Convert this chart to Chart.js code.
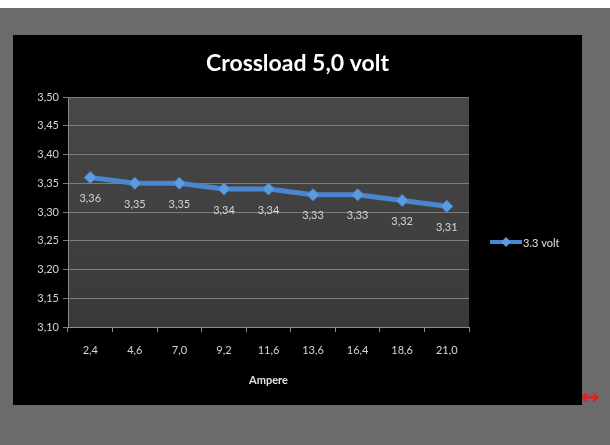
<!DOCTYPE html>
<html>
<head>
<meta charset="utf-8">
<script src="https://cdn.jsdelivr.net/npm/chart.js@4.4.1/dist/chart.umd.min.js"></script>
<style>
  html, body { margin: 0; padding: 0; }
  body { width: 610px; height: 445px; background: #6b6b6b; position: relative; overflow: hidden; }
  #topband { position: absolute; left: 0; top: 0; width: 610px; height: 8px; background: #ffffff; }
  #frame { position: absolute; left: 13px; top: 35px; width: 569px; height: 370px; background: #000; }
  #arrow { position: absolute; left: 581px; top: 384px; color: #e0201c; font: bold 22px "DejaVu Sans", sans-serif; }
</style>
</head>
<body>
<div id="topband"></div>
<div id="frame"><canvas id="c" width="569" height="370"></canvas></div>
<div id="arrow">↔</div>
<script>
const categories = ["2,4", "4,6", "7,0", "9,2", "11,6", "13,6", "16,4", "18,6", "21,0"];
const seriesName = "3.3 volt";
const values = [3.36, 3.35, 3.35, 3.34, 3.34, 3.33, 3.33, 3.32, 3.31];
const yMin = 3.10, yMax = 3.50, yStep = 0.05;
const titleText = "Crossload 5,0 volt";
const xTitle = "Ampere";

const fmt = v => v.toFixed(2).replace('.', ',');
const FONT = 'Lato, "Open Sans", sans-serif';
const lineColor = '#4a86cf';

const plotBg = {
  id: 'plotBg',
  beforeDraw(chart) {
    const { ctx, chartArea: a } = chart;
    const g = ctx.createLinearGradient(0, a.top, 0, a.bottom);
    g.addColorStop(0, '#484848');
    g.addColorStop(1, '#393939');
    ctx.save();
    ctx.fillStyle = g;
    ctx.fillRect(a.left, a.top, a.right - a.left, a.bottom - a.top);
    ctx.restore();
  }
};

const titlePlugin = {
  id: 'centerTitle',
  afterDraw(chart) {
    const { ctx } = chart;
    ctx.save();
    ctx.font = 'bold 23px ' + FONT;
    ctx.fillStyle = '#ffffff';
    ctx.textAlign = 'center';
    ctx.textBaseline = 'middle';
    ctx.fillText(titleText, chart.width / 2, 29);
    ctx.restore();
  }
};

const labelsPlugin = {
  id: 'pointLabels',
  afterDatasetsDraw(chart) {
    const { ctx } = chart;
    const meta = chart.getDatasetMeta(0);
    ctx.save();
    ctx.font = '11px ' + FONT;
    ctx.fillStyle = '#d4d4d4';
    ctx.textAlign = 'center';
    ctx.textBaseline = 'middle';
    meta.data.forEach((pt, i) => {
      ctx.fillText(fmt(values[i]), pt.x, pt.y + 21);
    });
    ctx.restore();
  }
};

const legendPlugin = {
  id: 'customLegend',
  afterDraw(chart) {
    const { ctx } = chart;
    const x0 = 477, y0 = 207;
    ctx.save();
    ctx.strokeStyle = lineColor;
    ctx.lineWidth = 4;
    ctx.beginPath();
    ctx.moveTo(x0, y0);
    ctx.lineTo(x0 + 32, y0);
    ctx.stroke();
    ctx.fillStyle = '#5b9be0';
    ctx.beginPath();
    const cx = x0 + 16, r = 5;
    ctx.moveTo(cx, y0 - r); ctx.lineTo(cx + r, y0); ctx.lineTo(cx, y0 + r); ctx.lineTo(cx - r, y0); ctx.closePath();
    ctx.fill();
    ctx.font = '11px ' + FONT;
    ctx.fillStyle = '#e0e0e0';
    ctx.textAlign = 'left';
    ctx.textBaseline = 'middle';
    ctx.fillText(seriesName, x0 + 33, y0 + 1);
    ctx.restore();
  }
};

new Chart(document.getElementById('c'), {
  type: 'line',
  data: {
    labels: categories,
    datasets: [{
      label: seriesName,
      data: values,
      borderColor: lineColor,
      borderWidth: 5,
      backgroundColor: '#5b9be0',
      pointStyle: 'rectRot',
      pointRadius: 6,
      pointBorderColor: '#4a86cf',
      pointBorderWidth: 1,
      tension: 0,
      fill: false
    }]
  },
  options: {
    responsive: false,
    animation: false,
    devicePixelRatio: 1,
    layout: { padding: { left: 0, right: 113, top: 62, bottom: 14 } },
    plugins: {
      legend: { display: false },
      tooltip: { enabled: false },
      title: { display: false }
    },
    scales: {
      x: {
        offset: true,
        grid: { display: true, drawOnChartArea: false, offset: true, tickLength: 5, color: '#8a8a8a' },
        border: { color: '#8a8a8a', width: 1 },
        ticks: { color: '#d4d4d4', font: { family: FONT, size: 11 }, padding: 12, maxRotation: 0 },
        title: { display: true, text: xTitle, color: '#e0e0e0', font: { family: FONT, size: 11, weight: 'bold' }, padding: { top: 10 } },
        afterFit(scale) { scale.height = 64; }
      },
      y: {
        min: yMin, max: yMax,
        grid: { color: '#7c7c7c', tickLength: 5, lineWidth: 1 },
        border: { color: '#8a8a8a', width: 1 },
        ticks: { stepSize: yStep, color: '#d4d4d4', font: { family: FONT, size: 11 }, padding: 4, callback: v => fmt(v) },
        afterFit(scale) { scale.width = 55; }
      }
    }
  },
  plugins: [plotBg, titlePlugin, labelsPlugin, legendPlugin]
});
</script>
</body>
</html>
